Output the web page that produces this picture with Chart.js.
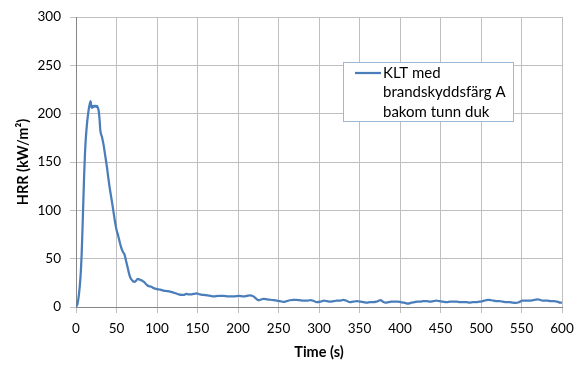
<!DOCTYPE html>
<html>
<head>
<meta charset="utf-8">
<script src="https://cdn.jsdelivr.net/npm/chart.js@4"></script>
<style>
html,body{margin:0;padding:0;background:#fff;}
#wrap{width:576px;height:371px;position:relative;}
</style>
</head>
<body>
<div id="wrap"><canvas id="c" width="576" height="371"></canvas></div>
<script>
const seriesLabel = ['KLT med', 'brandskyddsfärg A', 'bakom tunn duk'];
const xTitle = 'Time (s)';
const yTitle = 'HRR (kW/m²)';
const xTicks = [0,50,100,150,200,250,300,350,400,450,500,550,600];
const yTicks = [0,50,100,150,200,250,300];

const times = [
  0,1,2,3,4,5,6,7,8,9,10,
  11,12,13,14,15,16,17,18,19,20,
  21,22,23,24,25,26,27,28,29,30,
  32,34,36,38,40,42,44,46,48,50,
  52,54,56,58,60,62,64,66,68,70,
  72,74,76,78,80,82,84,86,88,90,
  93,96,100,104,108,112,116,120,124,127,
  130,133,136,139,142,145,149,153,158,162,
  166,170,176,182,188,195,201,207,211,215,
  219,222,225,228,231,236,240,244,248,252,
  256,260,264,268,272,276,281,285,289,293,
  297,302,306,310,314,318,322,326,330,334,
  338,342,347,351,355,359,363,367,371,376,
  379,382,386,390,394,397,401,405,410,414,
  418,421,425,429,433,437,441,445,449,453,
  458,462,466,470,474,478,482,486,490,494,
  498,502,506,509,513,516,519,523,527,531,
  535,539,543,547,551,555,560,564,567,570,
  574,578,582,586,590,594,598,600
];
const hrr = [
  0.5,1.5,4,9,16,25,37,55,80,108,135,
  157,173,184,193,200,206,210,213,207,206,
  208,207,208,208,207,208,206,203,195,183,
  176,168,157,146,133,121,111,100,89,80,
  74,67,61,57,54,47,40,33,29,27,
  26,27,29,28.5,28,27,26,24,22.5,21.5,
  21,19.5,18.5,18,17,16.5,16,15,14,13,
  12.5,12.5,13.5,13,13,13.5,14,13,12.5,12,
  11.5,11,11.5,11.5,11,11,11.5,11,11.5,12,
  11,9,7,7.5,8.5,8,7.5,7,6.5,6,
  5.2,6,7,7.5,7.5,7,6.5,6.5,7,6.5,
  5,5.5,6.5,6,5.5,6,6.5,6.5,7.5,6.5,
  5,5.5,6,5.5,5,4.5,5,5,5.5,7,
  5.5,4.5,5,5.5,5.5,5.5,5,4.5,3.5,4.5,
  5,5.5,5.5,6,6,5.5,6,6.5,6,5.5,
  5,5.5,5.5,5.5,5,5,5,4.5,5,5,
  5.5,6,7,7.5,7,6.5,6,6,5.5,5,
  5,4.5,4.2,5,6.5,6.5,6.5,7,7.5,8,
  7,6.5,6.5,6,6,5.5,4.5,4.5
];

const LINE_COLOR = '#4A7EBB';
const GRID = '#bfbfbf';
const AXIS = '#868686';
const FONT = 'Lato';

const points = times.map((t, i) => ({x: t, y: hrr[i]}));

const boxLegend = {
  id: 'boxLegend',
  afterDraw(chart) {
    const ctx = chart.ctx, ca = chart.chartArea;
    const x = ca.left + 267, y = ca.top + 45, w = 170, h = 59;
    ctx.save();
    ctx.fillStyle = '#ffffff';
    ctx.fillRect(x, y, w, h);
    ctx.strokeStyle = '#9db7d5';
    ctx.lineWidth = 1;
    ctx.strokeRect(x + 0.5, y + 0.5, w, h);
    ctx.strokeStyle = LINE_COLOR;
    ctx.lineWidth = 2.25;
    ctx.beginPath();
    ctx.moveTo(x + 12, y + 11);
    ctx.lineTo(x + 38, y + 11);
    ctx.stroke();
    ctx.fillStyle = '#000';
    ctx.font = '15px ' + FONT;
    ctx.textBaseline = 'middle';
    ctx.textAlign = 'left';
    seriesLabel.forEach((s, i) => ctx.fillText(s, x + 40, y + 11 + i * 19.5));
    ctx.restore();
  }
};

new Chart(document.getElementById('c'), {
  type: 'line',
  data: {
    datasets: [{
      label: seriesLabel.join(' '),
      data: points,
      borderColor: LINE_COLOR,
      borderWidth: 2.25,
      borderJoinStyle: 'round',
      cubicInterpolationMode: 'monotone',
      pointRadius: 0,
      fill: false
    }]
  },
  options: {
    responsive: false,
    animation: false,
    devicePixelRatio: 1,
    layout: {padding: {top: 17, right: 14, left: 0, bottom: 0}},
    plugins: {legend: {display: false}, tooltip: {enabled: false}},
    scales: {
      x: {
        type: 'linear', min: 0, max: 600,
        afterFit(s) { s.height = 64; s.paddingLeft = 0; s.paddingRight = 0; },
        afterBuildTicks(s) { s.ticks = xTicks.map(v => ({value: v})); },
        grid: {color: GRID, lineWidth: 1, tickLength: 6, tickColor: GRID},
        border: {color: AXIS, width: 1},
        ticks: {color: '#000', font: {family: FONT, size: 13.5}, padding: 8, maxRotation: 0},
        title: {display: true, text: xTitle, color: '#000',
                font: {family: FONT, size: 14.5, weight: 'bold'}, padding: {top: 0, bottom: 10}}
      },
      y: {
        type: 'linear', min: 0, max: 300,
        afterFit(s) { s.width = 76; s.paddingTop = 0; s.paddingBottom = 0; },
        afterBuildTicks(s) { s.ticks = yTicks.map(v => ({value: v})); },
        grid: {color: GRID, lineWidth: 1, tickLength: 6, tickColor: GRID},
        border: {color: AXIS, width: 1},
        ticks: {color: '#000', font: {family: FONT, size: 13.5}, padding: 9},
        title: {display: true, text: yTitle, color: '#000',
                font: {family: FONT, size: 14.5, weight: 'bold'}, padding: {top: 15, bottom: 0}}
      }
    }
  },
  plugins: [boxLegend]
});
</script>
</body>
</html>
